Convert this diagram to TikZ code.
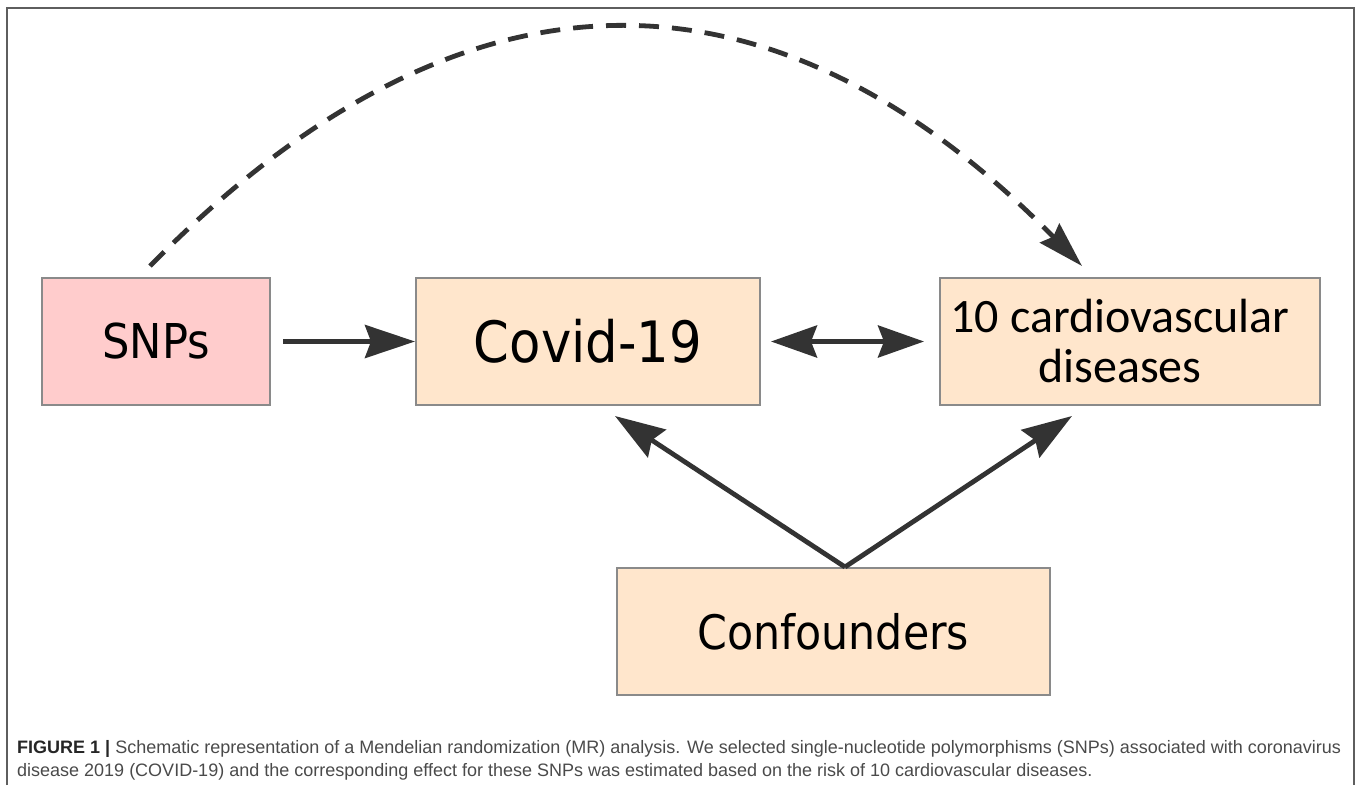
\documentclass[tikz,border=0pt]{standalone}
\usepackage{fontspec}
\setmainfont{Liberation Sans}
\newfontfamily\boxfont{DejaVu Sans Condensed}
\newfontfamily\cvdfont{Carlito}
\usetikzlibrary{arrows.meta,calc}
\definecolor{snpPink}{HTML}{FFCCCC}
\definecolor{boxPeach}{HTML}{FFE6CC}
\definecolor{boxEdge}{HTML}{8A8A8A}
\definecolor{arrowGray}{HTML}{333333}
\definecolor{frameGray}{HTML}{5E5E5E}
\definecolor{captionGray}{HTML}{4A4A4A}
\tikzset{
  mrtip/.tip={Stealth[length=46pt,width=32pt,inset=6pt]},
  mrbox/.style={draw=boxEdge, line width=2pt, fill=boxPeach,
    minimum height=127pt, inner sep=0pt, text=black},
  mrarrow/.style={draw=arrowGray, line width=4.8pt,
    -{Stealth[length=50pt,width=33pt,inset=6pt]}},
}

\begin{document}
\begin{tikzpicture}[x=1pt,y=-1pt]
  \useasboundingbox (0,0) rectangle (1358,785);
  % frame, open at the bottom
  \draw[frameGray, line width=2pt] (7,785) -- (7,8) -- (1354,8) -- (1354,785);

  \node[mrbox, fill=snpPink, minimum width=228pt,
        font=\boxfont\fontsize{48}{50}\selectfont] (snps) at (156,341.5) {SNPs};
  \node[mrbox, minimum width=344pt,
        font=\boxfont\fontsize{57}{60}\selectfont] (covid) at (588,341.5) {Covid-19};
  \node[mrbox, minimum width=380pt, align=center,
        font=\cvdfont\fontsize{48}{50}\selectfont] (cvd) at (1130,341.5)
        {10 cardiovascular\hspace*{20pt}\\diseases\hspace*{20pt}};
  \node[mrbox, minimum width=433pt,
        font=\boxfont\fontsize{47.5}{50}\selectfont] (conf) at (833.5,631.5) {Confounders};

  \coordinate (split) at (845,567);

  \draw[mrarrow, shorten <=12pt] (snps) -- (covid);
  \draw[mrarrow, mrtip-mrtip, shorten <=10pt, shorten >=15pt] (covid) -- (cvd);
  \draw[mrarrow] (split) -- ($(covid.south)+(27,10)$);
  \draw[mrarrow] (split) -- ($(cvd.south)+(-58,10)$);

  % dashed path from the SNPs over to the outcome
  \draw[mrarrow, dash pattern=on 20pt off 13pt,
        -{Stealth[length=46pt,width=27pt,inset=5pt]}]
    ($(snps.north)+(-6,-11)$) .. controls +(311,-316) and +(-311,-316) .. ($(cvd.north)+(-48,-11)$);

  \node[anchor=north west, inner sep=0pt, align=left, text=captionGray,
        font=\fontsize{18}{23}\selectfont] (caption) at (17,740)
    {\textbf{\color{black!85}FIGURE 1 |} Schematic representation of a Mendelian randomization (MR) analysis. We selected single-nucleotide polymorphisms (SNPs) associated with coronavirus\\
     disease 2019 (COVID-19) and the corresponding effect for these SNPs was estimated based on the risk of 10 cardiovascular diseases.};
\end{tikzpicture}
\end{document}
